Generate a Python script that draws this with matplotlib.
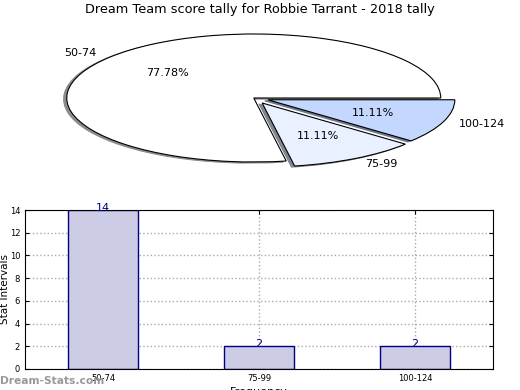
import matplotlib
matplotlib.use('Agg')
import matplotlib.pyplot as plt

# Data
categories = ['50-74', '75-99', '100-124']
counts = [14, 2, 2]
pie_colors = ['#ffffff', '#e9f0ff', '#c4d7ff']
explode = [0, 0.09, 0.08]

fig = plt.figure(figsize=(5.2, 3.9), dpi=100)

# Pie chart (squashed, no equal aspect)
ax1 = fig.add_axes([20 / 520, 1 - 178 / 390, 467.5 / 520, 160 / 390])
wedges, texts, autotexts = ax1.pie(counts, labels=categories, colors=pie_colors,
                                   explode=explode, autopct='%1.2f%%',
                                   shadow={'ox': -0.012, 'oy': -0.012, 'shade': 0.45, 'alpha': 1},
                                   startangle=0, labeldistance=1.1, pctdistance=0.6,
                                   wedgeprops={'edgecolor': 'black', 'linewidth': 0.8},
                                   textprops={'fontsize': 8})
texts[2].set_x(texts[2].get_position()[0] - 0.01)
ax1.set_aspect('auto')
ax1.set_xlim(-1.25, 1.25)
ax1.set_ylim(-1.25, 1.25)
fig.text(0.5, 1 - 10 / 390, 'Dream Team score tally for Robbie Tarrant - 2018 tally',
         ha='center', va='center', fontsize=9.3)

# Bar chart
ax2 = fig.add_axes([25 / 520, 21 / 390, 468 / 520, 159 / 390])
x = range(len(categories))
bars = ax2.bar(x, counts, width=0.45, color='#cccce6', edgecolor='#000080', linewidth=1)
for i, v in enumerate(counts):
    ax2.text(i, v - 0.25, str(v), ha='center', va='bottom', color='#000080', fontsize=8)
ax2.set_xlim(-0.5, 2.5)
ax2.set_ylim(0, 14)
ax2.set_yticks(range(0, 15, 2))
ax2.set_xticks(list(x))
ax2.set_xticklabels(categories)
ax2.tick_params(labelsize=6, direction='in', top=True, right=True, length=3)
ax2.grid(True, linestyle=':', color='#aaaaaa', linewidth=1)
ax2.set_axisbelow(True)
ax2.set_ylabel('Stat Intervals', fontsize=7.5)
ax2.yaxis.set_label_coords(-0.032, 0.5)
ax2.set_xlabel('Frequency', fontsize=8, labelpad=3)

fig.text(0, 6 / 390, 'Dream-Stats.com', color='#999999', fontsize=7.7, fontweight='bold')

fig.savefig('out.png', dpi=100)
